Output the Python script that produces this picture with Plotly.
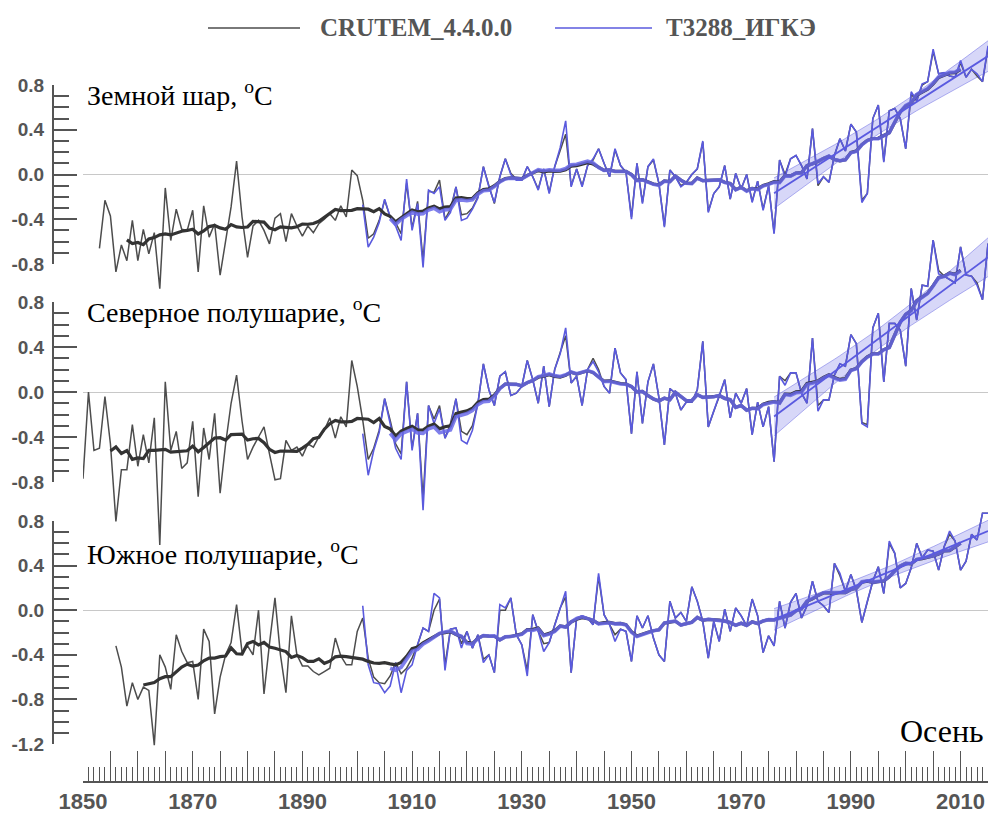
import numpy as np
import pandas as pd
import plotly.graph_objects as go

W, H = 988, 813

# ---------------- data (autumn temperature anomalies, degC) ----------------
GLOB_CRU_START = 1853
GLOB_CRU = [
    -0.66, -0.23, -0.37, -0.87, -0.63, -0.77, -0.41,
    -0.77, -0.49, -0.71, -0.52, -1.02, -0.12, -0.59, -0.31, -0.49, -0.50,
    -0.32, -0.87, -0.28, -0.56, -0.44, -0.90, -0.59, -0.29, 0.12, -0.38,
    -0.74, -0.46, -0.41, -0.50, -0.62, -0.39, -0.35, -0.60, -0.35, -0.46,
    -0.55, -0.46, -0.52, -0.44, -0.40, -0.35, -0.41, -0.28, -0.38, 0.04,
    -0.01, -0.23, -0.57, -0.53, -0.41, -0.23, -0.38, -0.43, -0.53, -0.08,
    -0.48, -0.24, -0.77, -0.15, -0.16, -0.05, -0.40, -0.31, -0.11, -0.36,
    -0.35, -0.30, -0.20, 0.07, -0.10, -0.26, -0.02, 0.14, 0.01, -0.04,
    -0.05, 0.07, -0.02, -0.13, 0.05, -0.16, 0.07, 0.22, 0.36, -0.10,
    0.05, -0.10, 0.08, 0.13, 0.23, 0.10, -0.02, 0.22, 0.08, 0.02,
    -0.38, 0.10, -0.25, 0.07, 0.13, -0.08, -0.46, 0.04, -0.02, -0.10,
    -0.07, 0.00, 0.05, 0.29, -0.33, -0.17, -0.11, 0.08, -0.22, 0.01,
    -0.13, 0.00, -0.24, -0.06, -0.31, -0.10, -0.52, 0.13, 0.00, 0.14,
    0.17, 0.08, -0.04, 0.41, -0.10, -0.02, -0.07, 0.17, 0.32, 0.21,
    0.45, 0.38, -0.23, -0.17, 0.50, 0.62, 0.12, 0.57, 0.59, 0.50,
    0.23, 0.72, 0.66, 0.80, 0.83, 1.10, 0.90, 0.91, 0.88, 0.87,
    1.00, 0.87, 0.94, 0.88, 0.83, 1.13,
]
GLOB_T_START = 1901
GLOB_T = [
    -0.27, -0.65, -0.56, -0.43, -0.22, -0.38, -0.46, -0.59, -0.04,
    -0.50, -0.26, -0.83, -0.14, -0.17, -0.11, -0.41, -0.34, -0.11, -0.41,
    -0.39, -0.31, -0.21, 0.07, -0.11, -0.25, -0.02, 0.14, 0.00, -0.05,
    -0.05, 0.07, -0.02, -0.14, 0.05, -0.17, 0.07, 0.24, 0.48, -0.11,
    0.05, -0.11, 0.08, 0.14, 0.23, 0.10, -0.02, 0.23, 0.08, 0.02,
    -0.40, 0.10, -0.26, 0.07, 0.14, -0.08, -0.47, 0.04, -0.02, -0.11,
    -0.07, 0.00, 0.05, 0.30, -0.34, -0.17, -0.11, 0.08, -0.22, 0.01,
    -0.13, 0.00, -0.25, -0.06, -0.32, -0.10, -0.53, 0.13, -0.02, 0.14,
    0.17, 0.08, -0.04, 0.41, -0.08, -0.02, -0.07, 0.17, 0.32, 0.21,
    0.45, 0.38, -0.25, -0.17, 0.50, 0.62, 0.11, 0.57, 0.59, 0.50,
    0.23, 0.74, 0.66, 0.81, 0.83, 1.12, 0.90, 0.91, 0.88, 0.87,
    1.02, 0.87, 0.94, 0.90, 0.83, 1.15,
]

NH_CRU_START = 1850
NH_CRU = [
    -0.77, 0.00, -0.52, -0.50, -0.04, -0.46, -1.15, -0.69, -0.69, -0.29,
    -0.66, -0.38, -0.63, -0.23, -1.36, 0.09, -0.52, -0.35, -0.68, -0.63,
    -0.26, -0.93, -0.32, -0.60, -0.19, -0.90, -0.46, -0.10, 0.15, -0.26,
    -0.60, -0.49, -0.40, -0.31, -0.55, -0.78, -0.77, -0.43, -0.52, -0.49,
    -0.57, -0.46, -0.49, -0.40, -0.34, -0.23, -0.41, -0.22, -0.31, 0.28,
    0.05, -0.25, -0.60, -0.50, -0.34, -0.06, -0.25, -0.46, -0.55, 0.09,
    -0.50, -0.19, -0.95, -0.12, -0.24, -0.12, -0.41, -0.28, -0.06, -0.35,
    -0.38, -0.30, -0.10, 0.25, 0.02, -0.12, 0.14, 0.18, -0.03, -0.01,
    0.05, 0.28, 0.11, -0.10, 0.23, -0.13, 0.20, 0.34, 0.50, 0.08,
    0.14, -0.12, 0.20, 0.30, 0.20, 0.05, -0.01, 0.39, 0.17, 0.11,
    -0.37, 0.18, -0.28, 0.09, 0.25, -0.05, -0.47, 0.03, -0.01, -0.16,
    -0.09, -0.09, 0.02, 0.45, -0.31, -0.17, -0.04, 0.11, -0.23, -0.01,
    -0.10, 0.03, -0.38, -0.09, -0.31, -0.13, -0.62, 0.14, 0.10, 0.17,
    0.17, -0.01, -0.10, 0.48, -0.12, -0.07, -0.07, 0.15, 0.25, 0.23,
    0.51, 0.43, -0.27, -0.29, 0.57, 0.70, 0.09, 0.61, 0.61, 0.55,
    0.23, 0.92, 0.64, 0.95, 0.94, 1.35, 1.08, 1.03, 1.00, 0.97,
    1.29, 1.04, 1.03, 0.97, 0.82, 1.32,
]
NH_T_START = 1901
NH_T = [
    -0.37, -0.74, -0.52, -0.36, -0.06, -0.27, -0.50, -0.60, 0.09,
    -0.52, -0.19, -1.05, -0.12, -0.28, -0.15, -0.41, -0.31, -0.06, -0.43,
    -0.46, -0.34, -0.10, 0.25, 0.02, -0.12, 0.14, 0.18, -0.03, -0.01,
    0.05, 0.28, 0.11, -0.10, 0.23, -0.13, 0.20, 0.34, 0.57, 0.08,
    0.14, -0.12, 0.20, 0.27, 0.18, 0.05, -0.01, 0.39, 0.17, 0.11,
    -0.37, 0.18, -0.28, 0.09, 0.25, -0.05, -0.47, 0.03, -0.01, -0.16,
    -0.09, -0.09, 0.02, 0.45, -0.31, -0.17, -0.04, 0.11, -0.23, -0.01,
    -0.10, 0.03, -0.38, -0.09, -0.31, -0.13, -0.62, 0.14, 0.06, 0.17,
    0.17, -0.01, -0.10, 0.48, -0.17, -0.07, -0.07, 0.15, 0.25, 0.23,
    0.51, 0.43, -0.28, -0.31, 0.57, 0.70, 0.09, 0.61, 0.61, 0.55,
    0.23, 0.92, 0.64, 0.95, 0.94, 1.35, 1.05, 1.03, 1.00, 0.97,
    1.29, 1.04, 1.03, 0.95, 0.82, 1.32,
]

SH_CRU_START = 1856
SH_CRU = [
    -0.32, -0.51, -0.86, -0.65,
    -0.80, -0.69, -0.72, -1.21, -0.40, -0.51, -0.71, -0.22, -0.37, -0.47,
    -0.46, -0.80, -0.17, -0.28, -0.93, -0.60, -0.40, -0.29, 0.05, -0.38,
    -0.32, -0.40, 0.00, -0.75, -0.30, 0.11, -0.40, -0.74, -0.05, -0.40,
    -0.50, -0.50, -0.55, -0.58, -0.55, -0.52, -0.25, -0.41, -0.49, -0.49,
    -0.19, -0.07, -0.43, -0.60, -0.65, -0.66, -0.59, -0.47, -0.57, -0.52,
    -0.43, -0.31, -0.16, -0.19, 0.00, 0.10, -0.49, -0.17, -0.16, -0.30,
    -0.19, -0.34, -0.22, -0.44, -0.40, -0.56, 0.00, 0.00, 0.11, -0.22,
    -0.31, -0.54, -0.04, -0.19, -0.30, -0.29, -0.13, 0.02, 0.12, -0.56,
    -0.07, -0.05, -0.07, -0.13, 0.30, -0.04, -0.13, -0.22, -0.17, -0.19,
    -0.46, -0.05, -0.16, -0.05, -0.25, -0.40, -0.46, 0.08, -0.07, -0.02,
    -0.10, 0.21, 0.08, -0.10, -0.43, -0.10, -0.28, 0.01, -0.19, 0.02,
    -0.05, -0.14, 0.10, -0.05, -0.38, -0.23, -0.32, 0.08, -0.16, 0.07,
    0.15, -0.07, 0.04, 0.26, 0.08, 0.04, -0.02, 0.42, 0.31, 0.17,
    0.32, 0.18, -0.11, 0.08, 0.26, 0.39, 0.15, 0.60, 0.51, 0.20,
    0.24, 0.38, 0.60, 0.47, 0.54, 0.53, 0.36, 0.57, 0.68, 0.62,
    0.36, 0.44, 0.68, 0.63, 0.87, 0.87,
]
SH_T_START = 1901
SH_T = [
    0.04, -0.49, -0.65, -0.66, -0.74, -0.68, -0.47, -0.74, -0.54,
    -0.49, -0.31, -0.16, -0.19, 0.15, 0.11, -0.54, -0.17, -0.16, -0.34,
    -0.19, -0.34, -0.22, -0.47, -0.40, -0.56, 0.05, 0.02, 0.11, -0.22,
    -0.31, -0.59, -0.04, -0.19, -0.37, -0.29, -0.13, 0.02, 0.17, -0.56,
    -0.07, -0.05, -0.07, -0.13, 0.33, -0.04, -0.13, -0.28, -0.17, -0.19,
    -0.46, -0.05, -0.16, -0.05, -0.25, -0.40, -0.46, 0.08, -0.07, -0.02,
    -0.10, 0.21, 0.08, -0.10, -0.43, -0.10, -0.28, 0.01, -0.19, 0.02,
    -0.05, -0.14, 0.10, -0.05, -0.38, -0.23, -0.32, 0.08, -0.16, 0.07,
    0.15, -0.07, 0.04, 0.26, 0.08, 0.04, -0.02, 0.42, 0.33, 0.17,
    0.32, 0.18, -0.11, 0.08, 0.26, 0.39, 0.15, 0.62, 0.51, 0.20,
    0.24, 0.38, 0.60, 0.47, 0.54, 0.53, 0.36, 0.57, 0.71, 0.62,
    0.36, 0.44, 0.68, 0.63, 0.87, 0.87,
]

PANEL_TITLES = ["Земной шар, ", "Северное полушарие, ", "Южное полушарие, "]
SEASON = "Осень"
LEGEND_NAMES = ["CRUTEM_4.4.0.0", "T3288_ИГКЭ"]
X_TICK_LABEL_YEARS = [1850, 1870, 1890, 1910, 1930, 1950, 1970, 1990, 2010]
X_MAJOR_TICK_YEARS = list(range(1850, 2016, 5))
TREND_START = 1976
SMOOTH_WINDOW = 11

# ---------------- styling / geometry ----------------
C_GRAY = "#4d4d4d"
C_GRAY_SM = "#333333"
C_BLUE = "#5a5ade"
C_BLUE_SM = "rgba(105,105,232,0.85)"
C_AXIS = "#555555"

def px(x):
    return x / W

def py(y):
    return 1 - y / H

X_LEFT_PX = 83      # position of 1850
YAXIS_PX = 53       # vertical axis line
XAXIS_LINE_PX = 782

panels = [
    dict(title=PANEL_TITLES[0], cs=GLOB_CRU_START, c=GLOB_CRU, ts=GLOB_T_START, t=GLOB_T,
         ticks=[0.8, 0.4, 0.0, -0.4, -0.8], top_v=0.8, bot_v=-0.8, top_px=85, bot_px=264,
         dom_px=(35, 296), title_px=93),
    dict(title=PANEL_TITLES[1], cs=NH_CRU_START, c=NH_CRU, ts=NH_T_START, t=NH_T,
         ticks=[0.8, 0.4, 0.0, -0.4, -0.8], top_v=0.8, bot_v=-0.8, top_px=302, bot_px=482,
         dom_px=(225, 560), title_px=311),
    dict(title=PANEL_TITLES[2], cs=SH_CRU_START, c=SH_CRU, ts=SH_T_START, t=SH_T,
         ticks=[0.8, 0.4, 0.0, -0.4, -0.8, -1.2], top_v=0.8, bot_v=-1.2, top_px=521, bot_px=744,
         dom_px=(495, 754), title_px=552),
]

fig = go.Figure()
layout_axes = {}

tick_font = dict(family="Liberation Sans, Arial, sans-serif", size=19, color=C_AXIS, weight="bold")

for i, p in enumerate(panels):
    tick_ax = i + 1          # visible tick axis
    data_ax = i + 4          # invisible data axis
    scale = (p["bot_px"] - p["top_px"]) / (p["top_v"] - p["bot_v"])  # px per unit
    d_top, d_bot = p["dom_px"]
    r_top = p["top_v"] + (p["top_px"] - d_top) / scale
    r_bot = p["bot_v"] - (d_bot - p["bot_px"]) / scale

    minor_vals = [round(v, 1) for v in np.arange(p["bot_v"], p["top_v"] + 0.001, 0.1)]
    layout_axes[f"yaxis{tick_ax}"] = dict(
        domain=[py(p["bot_px"]), py(p["top_px"])], range=[p["bot_v"], p["top_v"]],
        anchor="free", position=px(YAXIS_PX), showline=True, linecolor=C_AXIS, linewidth=2,
        ticks="inside", ticklen=23, tickwidth=1.6, tickcolor=C_AXIS,
        tickmode="array", tickvals=p["ticks"], ticktext=[f"{v:.1f}" for v in p["ticks"]],
        minor=dict(tickmode="array", tickvals=minor_vals, ticks="inside", ticklen=15,
                   tickwidth=1.6, tickcolor=C_AXIS),
        tickfont=tick_font, showgrid=False, zeroline=False, ticklabelstandoff=4,
        automargin=False, fixedrange=True,
    )
    layout_axes[f"yaxis{data_ax}"] = dict(
        domain=[py(d_bot), py(d_top)], range=[r_bot, r_top], anchor="x",
        showticklabels=False, showline=False, ticks="", showgrid=False,
        zeroline=True, zerolinecolor="#c8c8c8", zerolinewidth=1.2, automargin=False,
    )
    yref = f"y{data_ax}"
    # empty trace so the tick axis is rendered
    fig.add_trace(go.Scatter(x=[None], y=[None], yaxis=f"y{tick_ax}", showlegend=False,
                             hoverinfo="skip"))

    cy = np.arange(p["cs"], p["cs"] + len(p["c"]))
    ty = np.arange(p["ts"], p["ts"] + len(p["t"]))
    cs = pd.Series(p["c"], index=cy)
    ts = pd.Series(p["t"], index=ty)

    # trend 1976-2015 with confidence band (T3288)
    sel = ts[ts.index >= TREND_START]
    xx = sel.index.values.astype(float)
    yy = sel.values
    b, a = np.polyfit(xx, yy, 1)
    fit = a + b * xx
    n = len(xx)
    s = np.sqrt(np.sum((yy - fit) ** 2) / (n - 2))
    se = s * np.sqrt(1 / n + (xx - xx.mean()) ** 2 / np.sum((xx - xx.mean()) ** 2))
    tval = 2.02
    fig.add_trace(go.Scatter(x=xx, y=fit - tval * se, yaxis=yref, mode="lines",
                             line=dict(color="rgba(90,90,225,0.45)", width=1),
                             showlegend=False, hoverinfo="skip"))
    fig.add_trace(go.Scatter(x=xx, y=fit + tval * se, yaxis=yref, mode="lines", fill="tonexty",
                             fillcolor="rgba(110,110,230,0.28)",
                             line=dict(color="rgba(90,90,225,0.45)", width=1),
                             showlegend=False, hoverinfo="skip"))

    # raw series
    fig.add_trace(go.Scatter(x=cy, y=cs.values, yaxis=yref, mode="lines",
                             line=dict(color=C_GRAY, width=1.5), showlegend=False))
    fig.add_trace(go.Scatter(x=ty, y=ts.values, yaxis=yref, mode="lines",
                             line=dict(color=C_BLUE, width=1.6), showlegend=False))
    # smoothed (11-year running means)
    csm = cs.rolling(SMOOTH_WINDOW, center=True).mean()
    tsm = ts.rolling(SMOOTH_WINDOW, center=True).mean()
    fig.add_trace(go.Scatter(x=cy, y=csm.values, yaxis=yref, mode="lines",
                             line=dict(color=C_GRAY_SM, width=3.2), showlegend=False,
                             connectgaps=False))
    fig.add_trace(go.Scatter(x=ty, y=tsm.values, yaxis=yref, mode="lines",
                             line=dict(color=C_BLUE_SM, width=3.6), showlegend=False,
                             connectgaps=False))
    # trend line
    fig.add_trace(go.Scatter(x=xx, y=fit, yaxis=yref, mode="lines",
                             line=dict(color="#5a5ae0", width=1.8), showlegend=False))

# empty trace for the label-only x axis
fig.add_trace(go.Scatter(x=[None], y=[None], xaxis="x2", yaxis="y", showlegend=False,
                         hoverinfo="skip"))

annotations = []
for p in panels:
    annotations.append(dict(
        x=px(85), y=py(p["title_px"]), xref="paper", yref="paper", xanchor="left",
        yanchor="middle", showarrow=False, text=p["title"] + "<sup>o</sup>C",
        font=dict(family="Liberation Serif, Times New Roman, serif", size=28, color="black")))
annotations.append(dict(
    x=px(986), y=py(731), xref="paper", yref="paper", xanchor="right", yanchor="middle",
    showarrow=False, text=SEASON,
    font=dict(family="Liberation Serif, Times New Roman, serif", size=32, color="black")))

# legend (manual, centered at top)
leg_font = dict(family="Liberation Serif, Times New Roman, serif", size=25, color=C_AXIS,
                weight="bold")
shapes = [
    dict(type="line", xref="paper", yref="paper", x0=px(208), x1=px(300), y0=py(28), y1=py(28),
         line=dict(color=C_GRAY, width=1.6)),
    dict(type="line", xref="paper", yref="paper", x0=px(555), x1=px(652), y0=py(28), y1=py(28),
         line=dict(color=C_BLUE, width=1.6)),
]
annotations.append(dict(x=px(318), y=py(28), xref="paper", yref="paper", xanchor="left",
                        yanchor="middle", showarrow=False, text=LEGEND_NAMES[0], font=leg_font))
annotations.append(dict(x=px(664), y=py(28), xref="paper", yref="paper", xanchor="left",
                        yanchor="middle", showarrow=False, text=LEGEND_NAMES[1], font=leg_font))

fig.update_layout(
    width=W, height=H, margin=dict(l=0, r=0, t=0, b=0, pad=0, autoexpand=False),
    paper_bgcolor="white", plot_bgcolor="rgba(0,0,0,0)", showlegend=False,
    xaxis=dict(
        domain=[px(X_LEFT_PX), 1], range=[1850, 2015], anchor="free", position=py(XAXIS_LINE_PX),
        showline=True, linecolor=C_AXIS, linewidth=1.5,
        ticks="inside", ticklen=30, tickwidth=1.4, tickcolor=C_AXIS,
        tickmode="array", tickvals=X_MAJOR_TICK_YEARS, showticklabels=False,
        minor=dict(ticks="inside", ticklen=14, dtick=1, tick0=1850, tickwidth=1.1,
                   tickcolor=C_AXIS),
        showgrid=False, zeroline=False, automargin=False, fixedrange=True,
    ),
    xaxis2=dict(
        overlaying="x", range=[1850, 2015], anchor="free", position=py(XAXIS_LINE_PX),
        side="bottom", showline=False, ticks="", tickmode="array",
        tickvals=X_TICK_LABEL_YEARS, ticktext=[str(v) for v in X_TICK_LABEL_YEARS],
        tickangle=0, tickfont=dict(family="Liberation Sans, Arial, sans-serif",
                                   size=22, color=C_AXIS, weight="bold"),
        ticklabeloverflow="allow", ticklabelstandoff=4,
        showgrid=False, zeroline=False, automargin=False, fixedrange=True,
    ),
    annotations=annotations, shapes=shapes,
    **layout_axes,
)

fig.write_html("out.html")
